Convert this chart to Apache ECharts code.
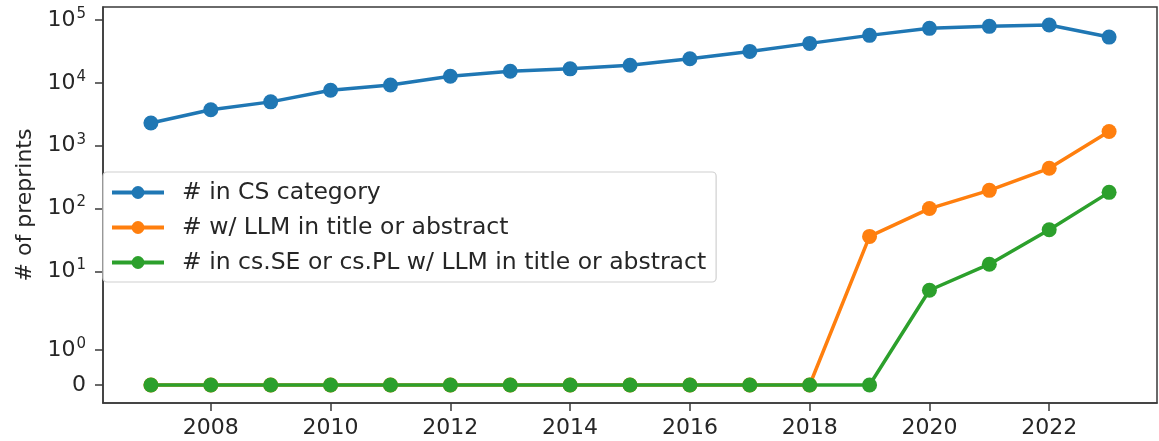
<!DOCTYPE html>
<html>
<head>
<meta charset="utf-8">
<script src="https://cdn.jsdelivr.net/npm/echarts@6/dist/echarts.min.js"></script>
<style>
  html, body { margin: 0; padding: 0; background: #fff; }
  #chart { width: 1159px; height: 441px; }
</style>
</head>
<body>
<div id="chart"></div>
<script>
// Yearly preprint counts on arXiv
const years = [2007, 2008, 2009, 2010, 2011, 2012, 2013, 2014, 2015, 2016, 2017, 2018, 2019, 2020, 2021, 2022, 2023];
const csCategory = [2300, 3750, 5000, 7650, 9300, 12800, 15400, 16800, 19200, 24300, 31800, 42700, 57300, 74100, 79800, 83800, 53800];
const llmTitleAbstract = [0, 0, 0, 0, 0, 0, 0, 0, 0, 0, 0, 0, 36, 100, 195, 438, 1690];
const sePlLlm = [0, 0, 0, 0, 0, 0, 0, 0, 0, 0, 0, 0, 0, 5, 13, 46, 181];

const seriesNames = [
  '# in CS category',
  '# w/ LLM in title or abstract',
  '# in cs.SE or cs.PL w/ LLM in title or abstract'
];
const seriesColors = ['#1f77b4', '#ff7f0e', '#2ca02c'];

const xTicks = [2008, 2010, 2012, 2014, 2016, 2018, 2020, 2022];
const yTicks = [0, 1, 10, 100, 1000, 10000, 100000];

// Symmetric log scale: linear up to LINTHRESH, logarithmic above
const LINTHRESH = 2, LINSCALE = 1, BASE = 10;
const linscaleAdj = LINSCALE / (1 - 1 / BASE);
function symlog(v) {
  const a = Math.abs(v);
  if (a <= LINTHRESH) return v * linscaleAdj;
  return Math.sign(v) * LINTHRESH * (linscaleAdj + Math.log(a / LINTHRESH) / Math.log(BASE));
}

const yTickPos = yTicks.map(symlog);
function yTickLabel(pos) {
  let best = 0;
  yTickPos.forEach((p, i) => { if (Math.abs(p - pos) < Math.abs(yTickPos[best] - pos)) best = i; });
  const t = yTicks[best];
  if (t === 0) return '{b|0}';
  return '{b|10}{s|' + Math.round(Math.log10(t)) + '}';
}

const allVals = csCategory.concat(llmTitleAbstract, sePlLlm).map(symlog);
const yLo = Math.min.apply(null, allVals), yHi = Math.max.apply(null, allVals);
const yPad = (yHi - yLo) * 0.05;
const xPad = (years[years.length - 1] - years[0]) * 0.05;

const FONT = 'DejaVu Sans';
const TEXT = '#262626';
const SPINE = '#3a3a3a';

function makeSeries(idx, values) {
  return {
    name: seriesNames[idx],
    type: 'line',
    data: years.map((y, i) => [y, symlog(values[i])]),
    symbol: 'circle',
    symbolSize: 15,
    showSymbol: true,
    color: seriesColors[idx],
    lineStyle: { width: 3.5, color: seriesColors[idx] },
    itemStyle: { color: seriesColors[idx] },
    z: 2 + idx,
    animation: false
  };
}

const chart = echarts.init(document.getElementById('chart'), null, { renderer: 'canvas' });
chart.setOption({
  backgroundColor: '#fff',
  animation: false,
  grid: {
    left: 103, right: 2, top: 7, bottom: 38,
    show: true, borderColor: SPINE, borderWidth: 1.5, backgroundColor: 'transparent'
  },
  xAxis: {
    type: 'value',
    min: years[0] - xPad,
    max: years[years.length - 1] + xPad,
    axisLine: { show: true, onZero: false, lineStyle: { color: SPINE, width: 1.5 } },
    axisTick: { show: true, length: 8, lineStyle: { color: SPINE, width: 1.5 }, customValues: xTicks },
    axisLabel: {
      customValues: xTicks, margin: 14,
      fontFamily: FONT, fontSize: 22, color: TEXT,
      formatter: v => String(Math.round(v))
    },
    splitLine: { show: false }
  },
  yAxis: {
    type: 'value',
    min: yLo - yPad,
    max: yHi + yPad,
    name: '# of preprints',
    nameLocation: 'middle',
    nameGap: 66,
    nameTextStyle: { fontFamily: FONT, fontSize: 22, color: TEXT },
    axisLine: { show: true, onZero: false, lineStyle: { color: SPINE, width: 1.5 } },
    axisTick: { show: true, length: 8, lineStyle: { color: SPINE, width: 1.5 }, customValues: yTickPos },
    axisLabel: {
      customValues: yTickPos, margin: 17,
      formatter: yTickLabel,
      rich: {
        b: { fontFamily: FONT, fontSize: 22, color: TEXT },
        s: { fontFamily: FONT, fontSize: 15, color: TEXT, padding: [0, 0, 12, 1] }
      }
    },
    splitLine: { show: false }
  },
  legend: {
    orient: 'vertical',
    left: 103, top: 172,
    padding: [8, 10, 7, 7],
    itemWidth: 52, itemHeight: 16, itemGap: 10,
    backgroundColor: 'rgba(255,255,255,0.8)',
    borderColor: '#d0d0d0', borderWidth: 1.2, borderRadius: 4,
    lineStyle: { width: 4 },
    textStyle: { fontFamily: FONT, fontSize: 23.5, color: TEXT, lineHeight: 25, padding: [0, 0, 0, 13] },
    data: seriesNames
  },
  series: [
    makeSeries(0, csCategory),
    makeSeries(1, llmTitleAbstract),
    makeSeries(2, sePlLlm)
  ]
});
</script>
</body>
</html>
